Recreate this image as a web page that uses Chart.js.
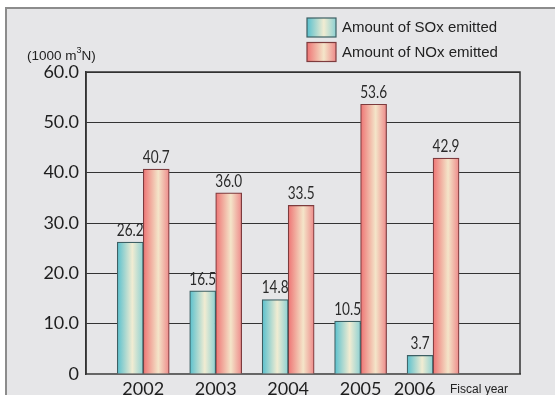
<!DOCTYPE html>
<html>
<head>
<meta charset="utf-8">
<style>
  html, body { margin: 0; padding: 0; background: #fff; }
  #wrap { width: 555px; height: 395px; position: relative; }
</style>
<script src="https://cdn.jsdelivr.net/npm/chart.js@4"></script>
</head>
<body>
<div id="wrap"><canvas id="myChart"></canvas></div>
<script>
const years = [2002, 2003, 2004, 2005, 2006];
const sox = [26.2, 16.5, 14.8, 10.5, 3.7];
const nox = [40.7, 36.0, 33.5, 53.6, 42.9];
const seriesNames = ["Amount of SOx emitted", "Amount of NOx emitted"];

const barW = 26;
const soxStops = ['#58c0ce', '#f1ecd2', '#8dd1d3'];
const noxStops = ['#ee7474', '#f4e5c9', '#ee8a8a'];

function hGradient(ctx, x0, x1, stops) {
  const g = ctx.createLinearGradient(x0, 0, x1, 0);
  g.addColorStop(0, stops[0]);
  g.addColorStop(0.58, stops[1]);
  g.addColorStop(1, stops[2]);
  return g;
}

// horizontal shading for each bar, placed from the x scale
function barFill(stops, side) {
  return function (c) {
    const chart = c.chart;
    if (c.type !== 'data' || !chart.chartArea || !chart.scales.x) return stops[0];
    const px = chart.scales.x.getPixelForValue(c.raw.x);
    const left = side === 0 ? px - barW : px;
    return hGradient(chart.ctx, left, left + barW, stops);
  };
}

const framePlugin = {
  id: 'frame',
  beforeDraw(chart) {
    const ctx = chart.ctx;
    ctx.save();
    ctx.fillStyle = '#e6e6e8';
    ctx.fillRect(6, 8, 560, 400);
    ctx.strokeStyle = '#8c8c8c';
    ctx.lineWidth = 2;
    ctx.beginPath();
    ctx.moveTo(6, 400);
    ctx.lineTo(6, 8);
    ctx.lineTo(560, 8);
    ctx.stroke();
    ctx.restore();
  },
  beforeDatasetsDraw(chart) {
    const a = chart.chartArea;
    const ctx = chart.ctx;
    ctx.save();
    ctx.strokeStyle = '#333';
    ctx.lineWidth = 1.5;
    ctx.beginPath();
    ctx.moveTo(a.left, a.bottom);
    ctx.lineTo(a.left, a.top);
    ctx.lineTo(a.right, a.top);
    ctx.lineTo(a.right, a.bottom);
    ctx.stroke();
    ctx.restore();
  },
  afterDraw(chart) {
    const ctx = chart.ctx;
    ctx.save();
    // value labels (narrowed horizontally)
    ctx.fillStyle = '#2a2a2a';
    ctx.font = '17px Lato, sans-serif';
    ctx.textAlign = 'center';
    ctx.textBaseline = 'bottom';
    const sx = 0.8;
    chart.data.datasets.forEach((ds, i) => {
      chart.getDatasetMeta(i).data.forEach((bar, j) => {
        ctx.save();
        ctx.scale(sx, 1);
        ctx.fillText(ds.data[j].y.toFixed(1), bar.x / sx, bar.y - 3);
        ctx.restore();
      });
    });

    // legend
    const stops = [soxStops, noxStops];
    const borders = ['#3d5f63', '#7d3b3d'];
    seriesNames.forEach((name, i) => {
      const bx = 307, by = 18 + i * 24.5;
      ctx.fillStyle = hGradient(ctx, bx, bx + 29, stops[i]);
      ctx.fillRect(bx, by, 29, 19);
      ctx.strokeStyle = borders[i];
      ctx.lineWidth = 1.2;
      ctx.strokeRect(bx, by, 29, 19);
      ctx.fillStyle = '#222';
      ctx.font = '15px "Liberation Sans", Arial, sans-serif';
      ctx.textAlign = 'left';
      ctx.textBaseline = 'middle';
      ctx.fillText(name, 342, by + 10);
    });

    // unit label
    ctx.fillStyle = '#222';
    ctx.font = '13.5px "Liberation Sans", Arial, sans-serif';
    ctx.textAlign = 'left';
    ctx.textBaseline = 'middle';
    let ux = 27;
    const uy = 56;
    ctx.fillText('(1000 m', ux, uy);
    ux += ctx.measureText('(1000 m').width;
    ctx.font = '9px "Liberation Sans", Arial, sans-serif';
    ctx.fillText('3', ux, uy - 5);
    ux += ctx.measureText('3').width;
    ctx.font = '13.5px "Liberation Sans", Arial, sans-serif';
    ctx.fillText('N)', ux, uy);

    // axis caption
    ctx.font = '12px "Liberation Sans", Arial, sans-serif';
    ctx.fillText('Fiscal year', 450, 390);
    ctx.restore();
  }
};

const myChart = new Chart("myChart", {
  type: 'bar',
  data: {
    datasets: [
      {
        label: seriesNames[0],
        data: years.map((y, i) => ({ x: y, y: sox[i] })),
        backgroundColor: barFill(soxStops, 0),
        borderColor: '#3d5f63',
        borderWidth: 1.2,
        barThickness: barW
      },
      {
        label: seriesNames[1],
        data: years.map((y, i) => ({ x: y, y: nox[i] })),
        backgroundColor: barFill(noxStops, 1),
        borderColor: '#7d3b3d',
        borderWidth: 1.2,
        barThickness: barW
      }
    ]
  },
  options: {
    responsive: true,
    maintainAspectRatio: false,
    animation: false,
    layout: { padding: { left: 6, top: 72, right: 35, bottom: 0 } },
    plugins: {
      legend: { display: false },
      tooltip: { enabled: false }
    },
    scales: {
      x: {
        type: 'linear',
        offset: false,
        min: 2001.21,
        max: 2007.2,
        grid: { display: false, drawTicks: false },
        border: { display: true, color: '#666', width: 2 },
        ticks: {
          stepSize: 1,
          includeBounds: false,
          autoSkip: false,
          maxRotation: 0,
          padding: 4,
          color: '#1e1e1e',
          font: { family: 'Lato', size: 18 },
          // last year label sits a little left to leave room for "Fiscal year"
          callback: v => {
            if (!Number.isInteger(v) || v > 2006) return '';
            return v === 2006 ? v + '\u00a0\u00a0\u00a0\u00a0\u00a0\u00a0\u00a0\u00a0' : String(v);
          }
        },
        afterFit: s => { s.height = 21; }
      },
      y: {
        min: 0,
        max: 60,
        grid: { color: '#333', lineWidth: 1, drawTicks: false },
        border: { display: true, color: '#333', width: 1.5 },
        ticks: {
          stepSize: 10,
          padding: 7,
          color: '#1e1e1e',
          font: { family: 'Lato', size: 18 },
          callback: v => (v === 0 ? '0' : v.toFixed(1))
        },
        afterFit: s => { s.width = 80; }
      }
    }
  },
  plugins: [framePlugin]
});
</script>
</body>
</html>
